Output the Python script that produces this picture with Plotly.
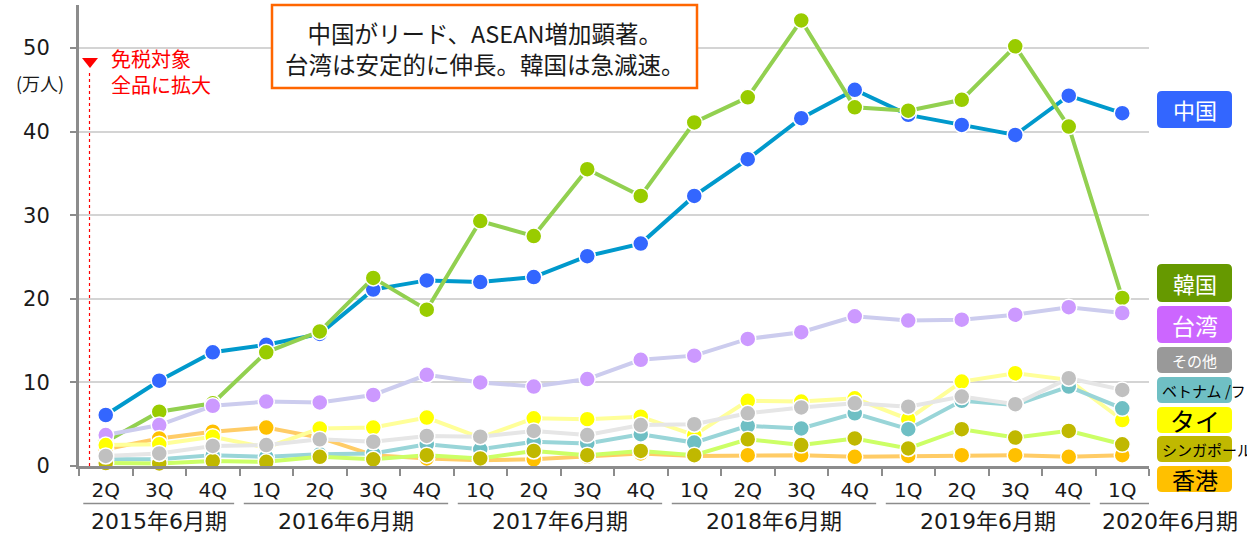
import plotly.graph_objects as go

# ---------------- data ----------------
quarters = ["2Q", "3Q", "4Q", "1Q", "2Q", "3Q", "4Q", "1Q", "2Q", "3Q",
            "4Q", "1Q", "2Q", "3Q", "4Q", "1Q", "2Q", "3Q", "4Q", "1Q"]
fiscal_years = ["2015年6月期", "2016年6月期", "2017年6月期",
                "2018年6月期", "2019年6月期", "2020年6月期"]
fy_counts = [3, 4, 4, 4, 4, 1]

china = [6.1, 10.2, 13.6, 14.5, 15.8, 21.1, 22.2, 22.0, 22.6, 25.1,
         26.6, 32.3, 36.7, 41.6, 45.0, 42.0, 40.8, 39.6, 44.3, 42.2]
korea = [2.9, 6.5, 7.5, 13.6, 16.1, 22.5, 18.7, 29.3, 27.5, 35.5,
         32.3, 41.1, 44.1, 53.3, 42.9, 42.5, 43.8, 50.2, 40.6, 20.1]
taiwan = [3.7, 4.9, 7.2, 7.7, 7.6, 8.5, 10.9, 10.0, 9.5, 10.4,
          12.7, 13.2, 15.2, 16.0, 17.9, 17.4, 17.5, 18.1, 19.0, 18.3]
hongkong = [2.0, 3.3, 4.1, 4.6, 3.4, 1.3, 0.9, 0.7, 0.8, 1.1,
            1.5, 1.2, 1.3, 1.3, 1.1, 1.2, 1.3, 1.3, 1.1, 1.3]
thailand = [2.5, 2.6, 3.5, 2.2, 4.5, 4.6, 5.8, 3.4, 5.7, 5.6,
            5.9, 3.7, 7.8, 7.7, 8.1, 5.6, 10.1, 11.1, 10.3, 5.5]
vietnam_ph = [0.8, 0.8, 1.3, 1.1, 1.4, 1.5, 2.6, 2.0, 2.9, 2.7,
              3.8, 2.8, 4.8, 4.5, 6.3, 4.4, 7.8, 7.3, 9.5, 6.9]
singapore = [0.35, 0.3, 0.6, 0.5, 1.1, 0.8, 1.3, 0.9, 1.8, 1.3,
             1.8, 1.3, 3.2, 2.5, 3.3, 2.1, 4.4, 3.4, 4.2, 2.6]
others = [1.2, 1.5, 2.4, 2.5, 3.2, 2.9, 3.6, 3.5, 4.2, 3.7,
          4.9, 5.0, 6.3, 7.0, 7.5, 7.1, 8.3, 7.4, 10.5, 9.1]

y_ticks = [0, 10, 20, 30, 40, 50]

# series: name, values, line colour, marker colour
series = [
    ("中国", china, "#0099cc", "#3366ff"),
    ("韓国", korea, "#92d050", "#99cc00"),
    ("台湾", taiwan, "#ccccee", "#cc99ff"),
    ("香港", hongkong, "#ffcc66", "#ffc000"),
    ("タイ", thailand, "#ffff99", "#ffff00"),
    ("ベトナム / フィリピン", vietnam_ph, "#99d5d8", "#6fbfc4"),
    ("シンガポール", singapore, "#ccff66", "#c0b800"),
    ("その他", others, "#e6e6e6", "#c0c0c0"),
]

legend_boxes = [
    # label, box colour, text colour, font size, top px, bottom px, left-aligned
    ("中国", "#3366ff", "white", 22, 91, 128, False),
    ("韓国", "#669900", "white", 22, 264, 302, False),
    ("台湾", "#cc66ff", "white", 23, 306, 343, False),
    ("その他", "#999999", "white", 15, 347, 373, False),
    ("ベトナム /フィリピン", "#6fbfc4", "black", 15, 377, 403, True),
    ("タイ", "#ffff00", "black", 25, 407, 433, False),
    ("シンガポール", "#c0b800", "black", 15, 436, 462, True),
    ("香港", "#ffc000", "black", 23, 466, 492, False),
]

# ---------------- layout geometry ----------------
W, H = 1247, 534
L_PX, R_PX, T_PX, B_PX = 79, 1149, 5, 466
Y_MAX = 55.14
CJK = "Noto Sans CJK JP"
NUMF = "DejaVu Sans, Noto Sans CJK JP"


def pxx(px):
    return (px - L_PX) / (R_PX - L_PX)


def pxy(py):
    return (B_PX - py) / (B_PX - T_PX)


def rounded_rect(x0, y0, x1, y1, r=5):
    X = lambda v: pxx(v)
    Y = lambda v: pxy(v)
    return (f"M {X(x0 + r)},{Y(y0)} L {X(x1 - r)},{Y(y0)} Q {X(x1)},{Y(y0)} {X(x1)},{Y(y0 + r)} "
            f"L {X(x1)},{Y(y1 - r)} Q {X(x1)},{Y(y1)} {X(x1 - r)},{Y(y1)} "
            f"L {X(x0 + r)},{Y(y1)} Q {X(x0)},{Y(y1)} {X(x0)},{Y(y1 - r)} "
            f"L {X(x0)},{Y(y0 + r)} Q {X(x0)},{Y(y0)} {X(x0 + r)},{Y(y0)} Z")


x_idx = list(range(len(quarters)))

fig = go.Figure()
for name, vals, lc, mc in series:
    fig.add_trace(go.Scatter(
        x=x_idx, y=vals, mode="lines+markers", name=name,
        line=dict(color=lc, width=4),
        marker=dict(size=16, color=mc, line=dict(color="white", width=1.5)),
        showlegend=False, cliponaxis=False,
    ))

shapes = []
annotations = []

# fiscal-year group lines and labels
start = 0
for i, (fy, n) in enumerate(zip(fiscal_years, fy_counts)):
    first, last = start, start + n - 1
    x0 = first - 0.42
    x1 = last + 0.4 if i < len(fiscal_years) - 1 else last + 1.27
    shapes.append(dict(type="line", xref="x", yref="paper", x0=x0, x1=x1,
                       y0=pxy(503.5), y1=pxy(503.5),
                       line=dict(color="#8c8c8c", width=1.5)))
    if i < len(fiscal_years) - 1:
        annotations.append(dict(x=(x0 + x1) / 2, y=pxy(521), xref="x", yref="paper",
                                text=fy, showarrow=False, xanchor="center", yanchor="middle",
                                font=dict(family=NUMF, size=22, color="#1a1a1a")))
    else:
        annotations.append(dict(x=x0, y=pxy(521), xref="x", yref="paper",
                                text=fy, showarrow=False, xanchor="left", yanchor="middle",
                                font=dict(family=NUMF, size=22, color="#1a1a1a")))
    start += n

# title box
shapes.append(dict(type="rect", xref="paper", yref="paper",
                   x0=pxx(272), x1=pxx(697), y0=pxy(88), y1=pxy(5),
                   fillcolor="white", line=dict(color="#ff6600", width=2.5), layer="above"))
annotations.append(dict(x=pxx(484.5), y=pxy(48), xref="paper", yref="paper",
                        text="中国がリード、ASEAN増加顕著。<br>台湾は安定的に伸長。韓国は急減速。",
                        showarrow=False, xanchor="center", yanchor="middle", align="center",
                        font=dict(family=CJK, size=23.5, color="#1a1a1a")))

# red marker for tax-free expansion
shapes.append(dict(type="line", xref="paper", yref="paper",
                   x0=pxx(89.5), x1=pxx(89.5), y0=pxy(466), y1=pxy(70),
                   line=dict(color="#ff0000", width=1.2, dash="dot"), layer="below"))
shapes.append(dict(type="path", xref="paper", yref="paper",
                   path=f"M {pxx(82)},{pxy(58)} L {pxx(98)},{pxy(58)} L {pxx(90)},{pxy(68)} Z",
                   fillcolor="#ff0000", line=dict(color="#ff0000", width=0)))
annotations.append(dict(x=pxx(109), y=pxy(72), xref="paper", yref="paper",
                        text="免税対象<br>全品に拡大", showarrow=False, xanchor="left",
                        yanchor="middle", align="left",
                        font=dict(family=CJK, size=20, color="#ff0000")))

# unit label
annotations.append(dict(x=pxx(40), y=pxy(83), xref="paper", yref="paper",
                        text="(万人)", showarrow=False, xanchor="center", yanchor="middle",
                        font=dict(family=CJK, size=18, color="#1a1a1a")))

# legend boxes on right
for label, bc, tc, fs, top, bot, left in legend_boxes:
    shapes.append(dict(type="path", xref="paper", yref="paper",
                       path=rounded_rect(1157, top, 1232, bot, 5),
                       fillcolor=bc, line=dict(width=0)))
    if left:
        annotations.append(dict(x=pxx(1160), y=pxy((top + bot) / 2), xref="paper", yref="paper",
                                text=label, showarrow=False, xanchor="left", yanchor="middle",
                                font=dict(family=CJK, size=fs, color=tc)))
    else:
        annotations.append(dict(x=pxx(1194.5), y=pxy((top + bot) / 2), xref="paper", yref="paper",
                                text=label, showarrow=False, xanchor="center", yanchor="middle",
                                font=dict(family=CJK, size=fs, color=tc)))

fig.update_layout(
    width=W, height=H,
    margin=dict(l=L_PX, r=W - R_PX, t=T_PX, b=H - B_PX),
    paper_bgcolor="white", plot_bgcolor="white",
    shapes=shapes, annotations=annotations,
    xaxis=dict(
        range=[-0.5, len(quarters) - 0.5],
        tickmode="array", tickvals=x_idx, ticktext=quarters,
        ticks="outside", ticklen=0, tickcolor="rgba(0,0,0,0)",
        ticklabelstandoff=4,
        tickfont=dict(family=NUMF, size=20, color="#1a1a1a"),
        showline=True, linecolor="#8c8c8c", linewidth=2.5,
        showgrid=False, zeroline=False,
        minor=dict(tickmode="array", tickvals=[i - 0.5 for i in range(len(quarters) + 1)],
                   ticks="outside", ticklen=7, tickcolor="#8c8c8c", tickwidth=2, showgrid=False),
    ),
    yaxis=dict(
        range=[0, Y_MAX],
        tickmode="array", tickvals=y_ticks,
        ticks="outside", ticklen=6, tickcolor="#8c8c8c", tickwidth=2,
        ticklabelstandoff=16,
        tickfont=dict(family=NUMF, size=21, color="#1a1a1a"),
        showline=True, linecolor="#8c8c8c", linewidth=3,
        showgrid=True, gridcolor="#d4d4d4", gridwidth=1.5,
        zeroline=False,
    ),
)

fig.write_html("out.html")
